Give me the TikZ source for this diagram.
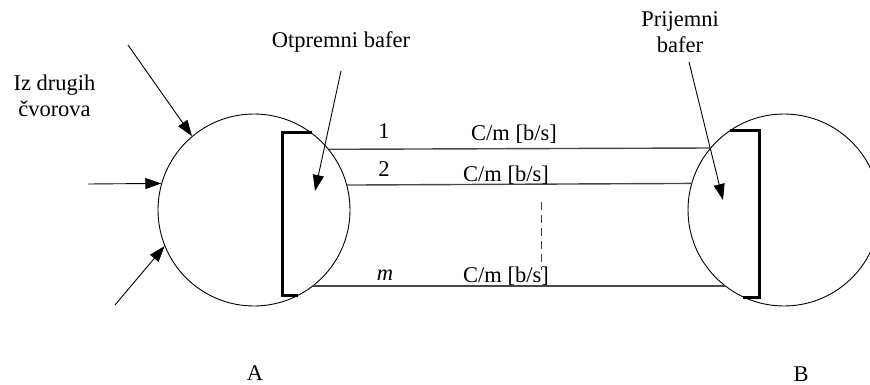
\documentclass[tikz,border=0pt]{standalone}
\usepackage{fontspec}
\setmainfont{Liberation Serif}
\usetikzlibrary{arrows.meta}

\begin{document}
\begin{tikzpicture}[
    x=1pt, y=-1pt,
    >={Triangle[length=16pt, width=11pt]},
    font=\fontsize{22.5}{25.5}\selectfont,
    station/.style={draw, circle, minimum size=192pt, inner sep=0pt, line width=0.9pt},
    channel/.style={line width=1.4pt, black!72},
    buffer/.style={line width=3pt, black, line join=miter},
    gap/.style={line width=1pt, black!75, dash pattern=on 8pt off 5pt},
    arrow/.style={->, line width=0.9pt},
    lbl/.style={inner sep=0pt, align=center}
  ]
    \useasboundingbox (0,0) rectangle (870,385);
    \node[station] (A) at (254,210) {};
    \node[station] (B) at (784,210) {};
    \node[lbl, anchor=base] (labA) at (255,380) {A};
    \node[lbl, anchor=base] (labB) at (801,381) {B};
    \draw[channel] (A.39.4) -- (B.140.6);
    \draw[channel] (A.15.7) -- (B.164.3);
    \draw[channel] (A.-52.3) -- (B.232.3);
    \coordinate (sendbar) at (282,210);
    \coordinate (recvbar) at (759,210);
    \draw[buffer] (A.53.3) -- (A.53.3 -| sendbar) -- (A.-63.6 -| sendbar) -- (A.-63.6);
    \draw[buffer] (B.124.6) -- (B.124.6 -| recvbar) -- (B.245 -| recvbar) -- (B.245);
    \node[lbl, anchor=base] (n1) at (384,139) {1};
    \node[lbl, anchor=base] (n2) at (384,176) {2};
    \node[lbl, anchor=base] (nm) at (385,280) {\textit{m}};
    \node[lbl, anchor=base] (rate1) at (514,141) {C/m [b/s]};
    \node[lbl, anchor=base] (rate2) at (506,182) {C/m [b/s]};
    \node[lbl, anchor=base] (rate3) at (506,282) {C/m [b/s]};
    \coordinate (gaptop) at (541,202);
    \coordinate (gapbot) at (541,270);
    \draw[gap] (gaptop) -- (gapbot);
    \node[lbl] (others) at (54.5,96) {Iz drugih\\čvorova};
    \coordinate (in1) at (128,45);
    \coordinate (in2) at (88,184);
    \coordinate (in3) at (115,305);
    \draw[arrow] (in1) -- (A.130.8);
    \draw[arrow] (in2) -- (A.164.2);
    \draw[arrow] (in3) -- (A.202.6);
    \node[lbl, anchor=base] (sendlbl) at (341,48) {Otpremni bafer};
    \node[lbl] (recvlbl) at (680,32) {Prijemni\\bafer};
    \coordinate (sendfrom) at (341,71);
    \coordinate (sendtip) at (315,191);
    \coordinate (recvfrom) at (689,62);
    \coordinate (recvtip) at (723,200);
    \draw[arrow] (sendfrom) -- (sendtip);
    \draw[arrow] (recvfrom) -- (recvtip);
\end{tikzpicture}
\end{document}
